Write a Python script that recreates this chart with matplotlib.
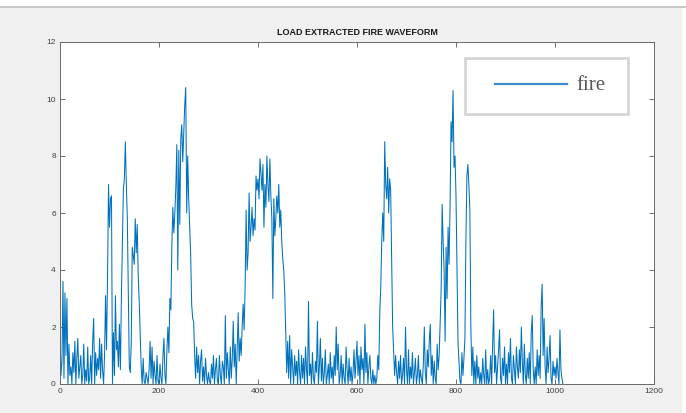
import matplotlib
matplotlib.use("Agg")
import matplotlib.pyplot as plt
import numpy as np
from matplotlib.patches import Rectangle

# fire waveform (sample step = 2)
step = 2
fire = [
    1.8, 0.3, 0.8, 3.6, 0.2, 3.2, 1.0, 3.0, 0.0, 1.4, 0.3, 0.6, 0.0, 1.1, 0.4, 1.5, 0.0, 0.9, 1.6, 0.2,
    0.6, 1.0, 0.0, 0.3, 1.4, 0.0, 0.5, 0.1, 1.3, 0.0, 0.2, 1.0, 0.0, 1.5, 2.3, 0.0, 1.1, 0.3, 0.9, 0.5,
    1.6, 0.2, 1.4, 0.5, 0.0, 1.0, 3.1, 1.2, 3.7, 7.0, 5.5, 6.5, 6.6, 0.0, 1.8, 0.3, 3.1, 1.2, 1.5, 0.6,
    2.1, 0.5, 3.0, 5.0, 6.8, 7.2, 8.5, 7.0, 5.8, 3.2, 0.6, 0.4, 1.5, 4.8, 4.5, 4.2, 5.8, 4.6, 5.6, 3.8,
    2.9, 1.8, 0.6, 0.0, 0.9, 0.1, 0.0, 0.4, 0.2, 0.0, 0.5, 1.5, 0.2, 1.3, 0.0, 0.8, 0.3, 0.0, 1.0, 0.1,
    0.0, 0.7, 0.2, 0.0, 1.0, 1.6, 0.3, 0.0, 1.2, 2.0, 1.1, 3.0, 2.6, 4.9, 6.2, 5.3, 6.0, 6.9, 8.4, 4.0,
    8.2, 5.6, 8.6, 9.1, 7.8, 8.8, 9.8, 10.4, 6.0, 8.0, 6.5, 5.5, 4.5, 2.8, 2.3, 2.2, 1.0, 0.2, 1.3, 0.4,
    1.0, 0.0, 0.8, 1.2, 0.1, 0.6, 0.0, 0.9, 0.3, 0.0, 0.4, 0.1, 0.0, 0.7, 0.2, 1.0, 0.0, 0.5, 0.9, 0.1,
    0.0, 1.0, 0.3, 0.0, 0.8, 0.6, 0.0, 2.4, 0.2, 1.1, 0.5, 0.0, 1.3, 0.2, 0.9, 2.2, 0.6, 1.4, 0.0, 1.2,
    2.5, 0.8, 1.6, 1.0, 2.0, 2.8, 1.9, 3.4, 6.1, 4.0, 4.6, 6.7, 5.0, 5.5, 6.2, 5.2, 5.8, 5.4, 7.3, 6.8,
    7.2, 6.5, 7.9, 7.4, 6.8, 7.7, 5.5, 7.0, 6.2, 8.0, 7.0, 6.4, 7.9, 6.6, 5.8, 3.0, 6.5, 5.2, 5.8, 6.6,
    6.0, 7.0, 5.5, 6.1, 5.0, 4.4, 4.0, 3.2, 1.8, 0.4, 1.5, 0.2, 1.7, 0.0, 1.2, 0.6, 0.0, 1.0, 0.3, 0.8,
    0.0, 1.2, 0.4, 0.0, 1.0, 0.2, 0.9, 0.0, 1.3, 0.5, 0.0, 2.9, 0.3, 0.7, 0.0, 1.1, 0.2, 0.0, 0.8, 0.4,
    2.2, 0.0, 0.6, 1.6, 0.1, 0.9, 0.0, 0.4, 1.2, 0.0, 0.3, 0.7, 0.0, 1.1, 0.2, 0.6, 0.0, 1.0, 0.3, 2.0,
    0.5, 1.4, 0.0, 0.3, 1.0, 0.0, 0.7, 0.2, 0.0, 1.3, 0.5, 0.0, 0.9, 0.1, 0.6, 0.0, 0.4, 1.2, 0.2, 0.8,
    1.5, 0.3, 1.0, 0.0, 1.3, 0.5, 0.9, 0.0, 2.1, 0.4, 1.1, 0.0, 0.6, 1.0, 0.2, 0.0, 0.5, 0.0, 0.3, 0.0,
    0.2, 1.0, 0.5, 2.5, 3.4, 5.0, 6.0, 5.0, 8.5, 7.0, 6.5, 7.6, 6.0, 7.2, 6.8, 4.5, 2.0, 1.1, 0.3, 1.0,
    0.4, 0.0, 0.8, 0.2, 1.0, 0.0, 0.3, 0.9, 0.0, 2.0, 0.5, 0.0, 1.2, 0.0, 0.6, 0.2, 1.1, 0.0, 0.4, 0.9,
    0.0, 0.3, 1.0, 0.0, 0.5, 0.2, 0.0, 0.7, 2.0, 0.4, 0.0, 1.2, 0.6, 1.5, 2.1, 0.3, 1.0, 0.0, 0.8, 0.2,
    0.0, 1.4, 0.5, 1.0, 2.1, 3.3, 6.3, 5.0, 4.0, 1.5, 4.8, 3.0, 5.5, 4.2, 6.2, 9.2, 8.5, 10.3, 7.6, 8.0,
    6.6, 4.0, 1.5, 0.8, 0.1, 0.0, 1.1, 0.3, 0.9, 1.6, 5.0, 7.3, 7.7, 7.0, 6.1, 2.0, 0.3, 1.3, 0.0, 0.8,
    0.0, 1.0, 0.2, 0.6, 0.0, 0.4, 0.0, 0.9, 0.3, 0.0, 1.2, 0.0, 0.5, 0.0, 0.2, 1.0, 0.0, 1.4, 2.6, 0.4,
    1.0, 0.0, 0.6, 1.2, 1.9, 0.2, 0.0, 0.9, 0.3, 1.3, 0.0, 0.7, 0.0, 1.1, 0.4, 1.6, 0.2, 0.0, 1.0, 0.5,
    0.0, 1.3, 0.6, 0.2, 1.2, 0.4, 2.0, 0.8, 0.0, 1.4, 0.3, 0.0, 0.9, 0.2, 1.1, 0.0, 1.8, 2.4, 0.5, 0.0,
    0.6, 0.0, 1.2, 0.3, 1.0, 0.2, 2.7, 3.5, 1.0, 2.3, 0.6, 0.0, 1.3, 0.4, 0.9, 1.7, 0.2, 0.0, 0.8, 0.3,
    0.6, 0.2, 0.9, 0.4, 0.0, 1.9, 0.5, 0.2, 0.0,
]
xticks = [0, 200, 400, 600, 800, 1000, 1200]
yticks = [0, 2, 4, 6, 8, 10, 12]

x = np.arange(len(fire)) * step

fig = plt.figure(figsize=(6.86, 4.13), dpi=100, facecolor='#f0f0f0')
# white strip at the top and right edge of the screenshot
fig.patches.append(Rectangle((0, 1 - 6/413), 1, 6/413, transform=fig.transFigure,
                             facecolor='white', edgecolor='none', zorder=0))
fig.patches.append(Rectangle((0, 1 - 8/413), 1, 2/413, transform=fig.transFigure,
                             facecolor='#c8c8c8', edgecolor='none', zorder=0))
fig.patches.append(Rectangle((682/686, 0), 4/686, 1 - 8/413, transform=fig.transFigure,
                             facecolor='white', edgecolor='none', zorder=0))

ax = fig.add_axes([60/686, 1 - 384/413, 594/686, 342/413])
ax.plot(x, fire, color='#0072BD', lw=0.75)

ax.set_xlim(0, 1200)
ax.set_ylim(0, 12)
ax.set_xticks(xticks)
ax.set_yticks(yticks)
ax.tick_params(direction='in', top=True, right=True, length=3.5, width=0.6,
               colors='#555555', labelsize=6, labelcolor='#404040', pad=3)
for lab in ax.get_xticklabels() + ax.get_yticklabels():
    lab.set_family(['Liberation Sans', 'DejaVu Sans'])
for sp in ax.spines.values():
    sp.set_color('#6a6a6a')
    sp.set_linewidth(0.7)

ax.set_title('LOAD EXTRACTED FIRE WAVEFORM', fontsize=6.5, fontweight='bold',
             family=['Liberation Sans Narrow', 'Liberation Sans', 'DejaVu Sans'],
             color='#1a1a1a', pad=5)

# legend box drawn like the matlab one
ax.add_patch(Rectangle((0.682, 0.789), 0.274, 0.164, transform=ax.transAxes,
                       facecolor='white', edgecolor='#d6d6d6', lw=2, zorder=5))
ax.plot([0.732, 0.854], [0.877, 0.877], transform=ax.transAxes,
        color='#3f88c9', lw=1.6, zorder=6)
ax.text(0.870, 0.872, 'fire', transform=ax.transAxes, fontsize=15,
        family=['Liberation Serif', 'DejaVu Serif'], color='#5a5a5a',
        va='center', ha='left', zorder=6)

fig.savefig('out.png', dpi=100, facecolor=fig.get_facecolor())
